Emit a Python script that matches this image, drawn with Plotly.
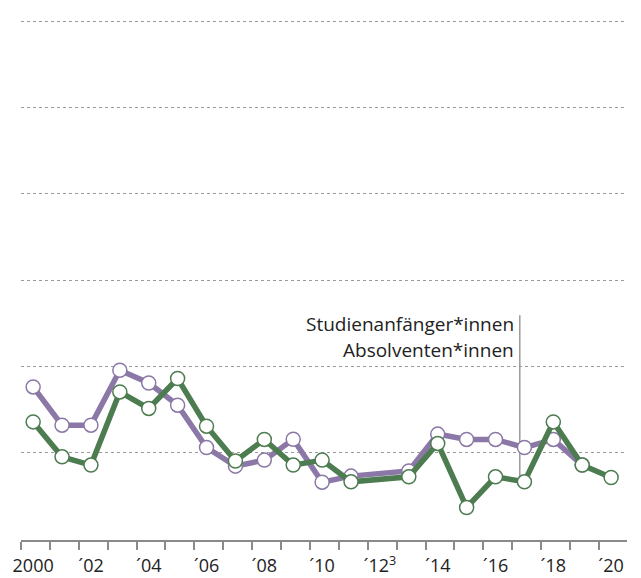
import plotly.graph_objects as go

years_start = [2000, 2001, 2002, 2003, 2004, 2005, 2006, 2007, 2008, 2009, 2010,
               2011, 2013, 2014, 2015, 2016, 2017, 2018, 2019]
studienanfaenger = [8.79, 6.57, 6.57, 9.76, 9.02, 7.73, 5.27, 4.19, 4.54, 5.75, 3.26,
                    3.61, 3.91, 6.05, 5.74, 5.74, 5.27, 5.74, 4.25]

years_abs = [2000, 2001, 2002, 2003, 2004, 2005, 2006, 2007, 2008, 2009, 2010,
             2011, 2013, 2014, 2015, 2016, 2017, 2018, 2019, 2020]
absolventen = [6.76, 4.73, 4.25, 8.50, 7.54, 9.28, 6.51, 4.49, 5.74, 4.25, 4.54,
               3.28, 3.57, 5.51, 1.79, 3.57, 3.28, 6.76, 4.25, 3.53]

label_years = [2000, 2002, 2004, 2006, 2008, 2010, 2012, 2014, 2016, 2018, 2020]
label_text = ["2000", "´02", "´04", "´06", "´08", "´10", "´12<sup>3</sup>",
              "´14", "´16", "´18", "´20"]
grid_vals = [5, 10, 15, 20, 25, 30]

PURPLE = "#8b78a6"
GREEN = "#4d7c50"
FONT = "Open Sans"

fig = go.Figure()
fig.add_trace(go.Scatter(
    x=years_start, y=studienanfaenger, mode="lines+markers",
    line=dict(color=PURPLE, width=5.5),
    marker=dict(size=14, color="white", line=dict(color=PURPLE, width=1.5)),
    name="Studienanfänger*innen", cliponaxis=False))
fig.add_trace(go.Scatter(
    x=years_abs, y=absolventen, mode="lines+markers",
    line=dict(color=GREEN, width=5.5),
    marker=dict(size=14, color="white", line=dict(color=GREEN, width=1.5)),
    name="Absolventen*innen", cliponaxis=False))

# pointer line for the labels
line_x = 2016.84
fig.add_shape(type="line", x0=line_x, x1=line_x, y0=absolventen[years_abs.index(2017)],
              y1=12.95, xref="x", yref="y", layer="below",
              line=dict(color="#999999", width=1.5))
fig.add_annotation(x=line_x, y=12.45, xref="x", yref="y", text="Studienanfänger*innen",
                   showarrow=False, xanchor="right", yanchor="middle", xshift=-4,
                   font=dict(family=FONT, size=19, color="#222222"))
fig.add_annotation(x=line_x, y=10.95, xref="x", yref="y", text="Absolventen*innen",
                   showarrow=False, xanchor="right", yanchor="middle", xshift=-4,
                   font=dict(family=FONT, size=19, color="#222222"))

fig.update_layout(
    width=641, height=578,
    margin=dict(l=21, r=14, t=20, b=38, autoexpand=False),
    paper_bgcolor="white", plot_bgcolor="white",
    showlegend=False,
    font=dict(family=FONT, size=18, color="#222222"),
)
fig.update_xaxes(
    range=[1999.58, 2020.55], showgrid=False, zeroline=False, automargin=False,
    showline=True, linecolor="#8a8a8a", linewidth=1.5,
    tickmode="array", tickvals=label_years, ticktext=label_text,
    ticks="", ticklabelstandoff=9,
    tickfont=dict(family=FONT, size=18, color="#222222"),
    minor=dict(tickmode="linear", tick0=1999.58, dtick=1, ticks="outside",
               ticklen=8, tickwidth=1.5, tickcolor="#8a8a8a", showgrid=False),
)
fig.update_yaxes(
    range=[-0.1, 30.1], tickmode="array", tickvals=grid_vals, automargin=False,
    showticklabels=False, ticks="", zeroline=False, showline=False,
    showgrid=True, gridcolor="#9a9a9a", gridwidth=1, griddash="dot",
)

fig.write_html("out.html", config={"displayModeBar": False},
               post_script="document.body.style.margin='0';document.body.style.overflow='hidden';")
